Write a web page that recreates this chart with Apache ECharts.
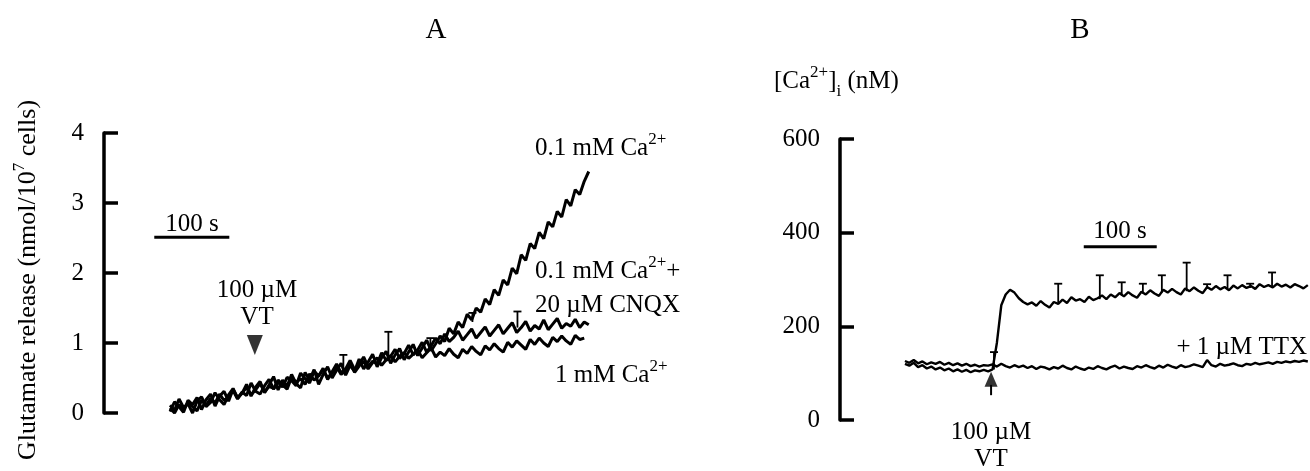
<!DOCTYPE html>
<html>
<head>
<meta charset="utf-8">
<script src="https://cdn.jsdelivr.net/npm/echarts@6/dist/echarts.min.js"></script>
<style>
  html, body { margin: 0; padding: 0; background: #fff; }
  #main { width: 1310px; height: 471px; }
</style>
</head>
<body>
<div id="main"></div>
<script>
  // ---- panel A : glutamate release (nmol/10^7 cells), one sample every 6 s
  const stepA = 6;
  const relTop = [ // 0.1 mM Ca2+
    0.02,0.16,0.09,0.01,0.18,0.12,0.22,0.05,0.19,0.27,
    0.10,0.24,0.31,0.17,0.34,0.22,0.28,0.41,0.24,0.37,
    0.45,0.29,0.40,0.52,0.33,0.47,0.38,0.55,0.42,0.36,
    0.58,0.47,0.62,0.41,0.55,0.66,0.50,0.61,0.71,0.54,
    0.68,0.60,0.77,0.63,0.73,0.84,0.66,0.79,0.88,0.71,
    0.83,0.92,0.76,0.87,0.98,0.82,0.93,1.04,0.89,0.99,
    1.10,1.02,1.21,1.13,1.30,1.22,1.41,1.33,1.50,1.44,
    1.63,1.55,1.76,1.68,1.90,1.83,2.07,1.99,2.26,2.18,
    2.42,2.35,2.58,2.49,2.73,2.66,2.88,2.80,3.05,2.96,
    3.19,3.12,3.31,3.45
  ];
  const relCnqx = [ // 0.1 mM Ca2+ + 20 uM CNQX
    0.11,0.04,0.20,0.08,0.13,0.00,0.17,0.23,0.09,0.15,
    0.29,0.19,0.12,0.26,0.35,0.21,0.30,0.25,0.43,0.31,
    0.27,0.39,0.48,0.34,0.44,0.37,0.51,0.46,0.39,0.57,
    0.49,0.43,0.60,0.53,0.64,0.48,0.59,0.70,0.57,0.63,
    0.75,0.62,0.69,0.80,0.66,0.74,0.70,0.86,0.75,0.81,
    0.91,0.78,0.85,0.97,0.83,0.90,1.01,0.87,0.96,1.07,
    0.99,1.13,1.02,1.08,1.17,1.04,1.12,1.20,1.07,1.15,
    1.23,1.10,1.18,1.26,1.13,1.21,1.29,1.15,1.22,1.31,
    1.17,1.25,1.20,1.33,1.19,1.27,1.35,1.21,1.28,1.24,
    1.34,1.22,1.30,1.26
  ];
  const rel1mM = [ // 1 mM Ca2+
    0.07,0.00,0.12,0.05,0.15,0.09,0.03,0.18,0.11,0.21,
    0.14,0.27,0.18,0.23,0.32,0.20,0.29,0.36,0.26,0.33,
    0.42,0.30,0.38,0.35,0.47,0.40,0.34,0.51,0.44,0.49,
    0.41,0.56,0.47,0.53,0.62,0.50,0.57,0.66,0.55,0.61,
    0.70,0.58,0.67,0.74,0.63,0.72,0.79,0.68,0.76,0.82,
    0.73,0.81,0.86,0.78,0.84,0.90,0.79,0.86,0.93,0.80,
    0.87,0.82,0.92,0.84,0.79,0.91,0.85,0.95,0.88,0.83,
    0.96,0.90,0.99,0.92,0.87,1.01,0.94,1.03,0.97,0.91,
    1.05,0.98,1.07,1.00,0.95,1.08,1.02,1.10,1.03,0.98,
    1.11,1.05,1.07
  ];
  // error bars [time s, trace value, top of bar]
  const errA = [[231,0.62,0.83],[291,0.80,1.16],[347,0.95,1.07],[403,1.30,1.43],[463,1.22,1.45]];
  const yTicksA = [0, 1, 2, 3, 4];
  const vtA = 113;          // VT addition (s)
  const barA = [-21, 79];   // 100 s scale bar
  const barAy = 2.51;

  // ---- panel B : [Ca2+]i (nM), one sample every 6 s
  const stepB = 6;
  const caCtrl = [
    120,116,122,113,117,110,114,108,112,106,
    110,104,108,103,107,102,106,104,107,104,
    108,165,245,268,278,272,260,252,247,251,
    244,254,246,240,252,248,257,250,262,255,
    258,252,263,256,260,266,258,268,262,271,
    264,273,266,261,274,268,277,270,265,278,
    272,280,273,268,281,275,283,276,271,284,
    278,286,279,284,277,287,281,288,282,286,
    280,290,284,288,283,291,285,289,283,290,
    286,281,288
  ];
  const caTtx = [ // + 1 uM TTX
    126,122,128,121,125,119,123,120,124,118,
    122,117,121,116,120,115,118,114,117,116,
    119,114,120,115,112,117,113,116,111,115,
    109,114,112,108,113,110,116,111,108,114,
    110,107,112,109,115,111,108,113,116,110,
    114,111,109,115,112,117,113,110,116,112,
    118,114,111,117,113,115,119,116,113,128,
    117,114,120,116,118,121,117,115,120,118,
    122,119,121,123,120,124,122,125,123,126,
    124,127,125
  ];
  const errB = [[122,108,145],[210,250,291],[267,258,309],[297,265,294],[326,270,291],[352,272,309],
                [386,275,336],[414,280,290],[442,280,309],[473,282,291],[503,284,315]];
  const yTicksB = [0, 200, 400, 600];
  const vtB = 118;
  const barB = [245, 345];
  const barBy = 370;

  const serif = "'Liberation Serif','Times New Roman',serif";
  const ink = '#000';

  function toPairs(vals, step) {
    return vals.map((v, i) => [i * step, v]);
  }

  function errItem(params, api) {
    const lo = api.coord([api.value(0), api.value(1)]);
    const hi = api.coord([api.value(0), api.value(2)]);
    const st = { stroke: ink, lineWidth: 1.8 };
    return {
      type: 'group',
      children: [
        { type: 'line', shape: { x1: lo[0], y1: lo[1], x2: hi[0], y2: hi[1] }, style: st },
        { type: 'line', shape: { x1: hi[0] - 4, y1: hi[1], x2: hi[0] + 4, y2: hi[1] }, style: st }
      ]
    };
  }

  // rich text bits for super/subscripts
  const rich = {
    t: { fontSize: 25, fontFamily: serif, lineHeight: 26, padding: [7, 0, 7, 0] },
    ty: { fontSize: 26, fontFamily: serif, lineHeight: 27, padding: [7, 0, 7, 0] },
    big: { fontSize: 29, fontFamily: serif, lineHeight: 30 },
    sup: { fontSize: 17, fontFamily: serif, lineHeight: 17, padding: [3, 0, 20, 0] },
    sub: { fontSize: 17, fontFamily: serif, lineHeight: 17, padding: [22, 0, 1, 0] }
  };
  function label(x, y, text, align, rot) {
    return {
      type: 'text', x: x, y: y, rotation: rot || 0, silent: true,
      style: { text: text, rich: rich, fill: ink, align: align || 'left', verticalAlign: 'middle',
               fontSize: 25, fontFamily: serif }
    };
  }

  function yAxis(ticks, grid) {
    return {
      type: 'value', gridIndex: grid,
      min: ticks[0], max: ticks[ticks.length - 1], interval: ticks[1] - ticks[0],
      axisLine: { show: true, onZero: false, lineStyle: { color: ink, width: 3.5 } },
      axisTick: { show: true, inside: true, length: 14, lineStyle: { color: ink, width: 3.5 } },
      axisLabel: { color: ink, fontSize: 25, fontFamily: serif, margin: 20 },
      splitLine: { show: false }
    };
  }

  const trace = (name, vals, step, axis, w) => ({
    name: name, type: 'line', xAxisIndex: axis, yAxisIndex: axis,
    data: toPairs(vals, step), symbol: 'none', silent: true,
    lineStyle: { color: ink, width: w }
  });

  const chart = echarts.init(document.getElementById('main'));
  chart.setOption({
    animation: false,
    backgroundColor: '#fff',
    grid: [
      { left: 104, top: 133, width: 496, height: 280 },
      { left: 840, top: 139, width: 470, height: 281 }
    ],
    xAxis: [
      { type: 'value', gridIndex: 0, min: -88, max: 573, show: false },
      { type: 'value', gridIndex: 1, min: -89, max: 555, show: false }
    ],
    yAxis: [yAxis(yTicksA, 0), yAxis(yTicksB, 1)],
    series: [
      trace('0.1 mM Ca', relTop, stepA, 0, 3),
      trace('CNQX', relCnqx, stepA, 0, 3),
      trace('1 mM Ca', rel1mM, stepA, 0, 3),
      {
        type: 'custom', xAxisIndex: 0, yAxisIndex: 0, renderItem: errItem,
        encode: { x: 0, y: [1, 2] }, data: errA, silent: true
      },
      {
        type: 'line', xAxisIndex: 0, yAxisIndex: 0, symbol: 'none', silent: true,
        data: barA.map(t => [t, barAy]), lineStyle: { color: ink, width: 3 }
      },
      {
        type: 'scatter', xAxisIndex: 0, yAxisIndex: 0, silent: true,
        symbol: 'triangle', symbolRotate: 180, symbolSize: [16, 20],
        itemStyle: { color: ink }, data: [[vtA, 0.97]]
      },
      trace('control', caCtrl, stepB, 1, 2.4),
      trace('TTX', caTtx, stepB, 1, 2.4),
      {
        type: 'custom', xAxisIndex: 1, yAxisIndex: 1, renderItem: errItem,
        encode: { x: 0, y: [1, 2] }, data: errB, silent: true
      },
      {
        type: 'line', xAxisIndex: 1, yAxisIndex: 1, symbol: 'none', silent: true,
        data: barB.map(t => [t, barBy]), lineStyle: { color: ink, width: 3 }
      },
      {
        type: 'line', xAxisIndex: 1, yAxisIndex: 1, symbol: 'none', silent: true,
        data: [[vtB, 53], [vtB, 75]], lineStyle: { color: ink, width: 2 }
      },
      {
        type: 'scatter', xAxisIndex: 1, yAxisIndex: 1, silent: true,
        symbol: 'triangle', symbolSize: [13, 15],
        itemStyle: { color: ink }, data: [[vtB, 87]]
      }
    ],
    graphic: [
      label(436, 30, '{big|A}', 'center'),
      label(1080, 30, '{big|B}', 'center'),
      label(28, 280, '{ty|Glutamate release (nmol/10}{sup|7}{ty| cells)}', 'center', Math.PI / 2),
      label(192, 224, '100 s', 'center'),
      label(257, 290, '100 µM', 'center'),
      label(257, 317, 'VT', 'center'),
      label(535, 148, '{t|0.1 mM Ca}{sup|2+}', 'left'),
      label(535, 271, '{t|0.1 mM Ca}{sup|2+}{t|+}', 'left'),
      label(535, 305, '20 µM CNQX', 'left'),
      label(555, 375, '{t|1 mM Ca}{sup|2+}', 'left'),
      label(774, 81, '{t|[Ca}{sup|2+}{t|]}{sub|i}{t| (nM)}', 'left'),
      label(1120, 231, '100 s', 'center'),
      label(1307, 347, '+ 1 µM TTX', 'right'),
      label(991, 432, '100 µM', 'center'),
      label(991, 459, 'VT', 'center')
    ]
  });
</script>
</body>
</html>
